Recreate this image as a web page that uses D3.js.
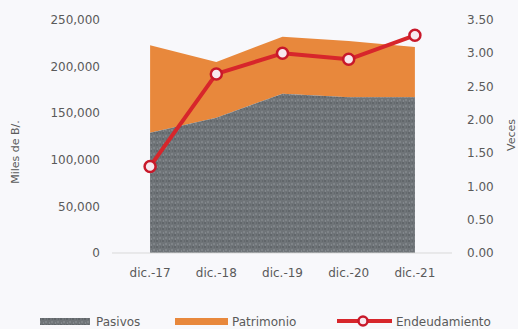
<!DOCTYPE html>
<html>
<head>
<meta charset="utf-8">
<script src="https://cdn.jsdelivr.net/npm/d3@7"></script>
<style>
  html, body { margin: 0; padding: 0; background: #f8f8fb; }
  svg { display: block; }
  text { font-family: "DejaVu Sans", sans-serif; fill: #5a5a5a; }
</style>
</head>
<body>
<svg id="chart" width="518" height="329"></svg>
<script>
// Balance data (miles de B/.) and leverage ratio (veces)
const categories = ["dic.-17", "dic.-18", "dic.-19", "dic.-20", "dic.-21"];
const pasivos = [129000, 145000, 171000, 167000, 167000];
const patrimonio = [94000, 60000, 61000, 60500, 54000];
const endeudamiento = [1.30, 2.69, 3.00, 2.91, 3.27];
const leftTicks = [0, 50000, 100000, 150000, 200000, 250000];
const rightTicks = [0, 0.5, 1, 1.5, 2, 2.5, 3, 3.5];

const svg = d3.select("#chart");

const x = d3.scalePoint().domain(categories).range([117, 448]).padding(0.5);
const yL = d3.scaleLinear().domain([0, 250000]).range([253, 20]);
const yR = d3.scaleLinear().domain([0, 3.5]).range([253, 20]);

// Speckled fill for the liabilities area
const defs = svg.append("defs");
const pat = defs.append("pattern")
  .attr("id", "speckle").attr("patternUnits", "userSpaceOnUse")
  .attr("width", 6).attr("height", 6);
pat.append("rect").attr("width", 6).attr("height", 6).attr("fill", "#6f7478");
pat.append("rect").attr("x", 0).attr("y", 0).attr("width", 2).attr("height", 2).attr("fill", "#61666a");
pat.append("rect").attr("x", 3).attr("y", 3).attr("width", 2).attr("height", 2).attr("fill", "#7f8488");
pat.append("rect").attr("x", 4).attr("y", 0).attr("width", 1).attr("height", 2).attr("fill", "#64696d");
pat.append("rect").attr("x", 1).attr("y", 4).attr("width", 1).attr("height", 2).attr("fill", "#82878c");

const totals = pasivos.map((p, i) => p + patrimonio[i]);

// Stacked areas
const areaPas = d3.area()
  .x((d, i) => x(categories[i])).y0(yL(0)).y1(d => yL(d));
const areaPat = d3.area()
  .x((d, i) => x(categories[i])).y0((d, i) => yL(pasivos[i])).y1(d => yL(d));

svg.append("path").datum(totals).attr("d", areaPat).attr("fill", "#e8883c");
svg.append("path").datum(pasivos).attr("d", areaPas).attr("fill", "url(#speckle)");

// Baseline
svg.append("line").attr("x1", 112).attr("x2", 452)
  .attr("y1", yL(0)).attr("y2", yL(0))
  .attr("stroke", "#d9d9d9").attr("stroke-width", 1);

// Left axis labels
svg.append("g").selectAll("text").data(leftTicks).join("text")
  .attr("x", 100).attr("y", d => yL(d)).attr("dy", "0.35em")
  .attr("text-anchor", "end").attr("font-size", 12)
  .text(d => d3.format(",")(d));

// Right axis labels
svg.append("g").selectAll("text").data(rightTicks).join("text")
  .attr("x", 467).attr("y", d => yR(d)).attr("dy", "0.35em")
  .attr("text-anchor", "start").attr("font-size", 12)
  .text(d => d3.format(".2f")(d));

// Category labels
svg.append("g").selectAll("text").data(categories).join("text")
  .attr("x", d => x(d)).attr("y", 273).attr("dy", "0.35em")
  .attr("text-anchor", "middle").attr("font-size", 12)
  .text(d => d);

// Axis titles
svg.append("text").attr("transform", "translate(19,152) rotate(-90)")
  .attr("text-anchor", "middle").attr("font-size", 11).text("Miles de B/.");
svg.append("text").attr("transform", "translate(515,135) rotate(-90)")
  .attr("text-anchor", "middle").attr("font-size", 11).text("Veces");

// Leverage line with markers
const line = d3.line().x((d, i) => x(categories[i])).y(d => yR(d));
svg.append("path").datum(endeudamiento).attr("d", line)
  .attr("fill", "none").attr("stroke", "#d7262b").attr("stroke-width", 4)
  .attr("stroke-linejoin", "round");
svg.append("g").selectAll("circle").data(endeudamiento).join("circle")
  .attr("cx", (d, i) => x(categories[i])).attr("cy", d => yR(d)).attr("r", 5.5)
  .attr("fill", "#f7e8ee").attr("stroke", "#c8182a").attr("stroke-width", 2.5);

// Legend
const lg = svg.append("g");
lg.append("rect").attr("x", 40).attr("y", 318).attr("width", 50).attr("height", 7).attr("fill", "url(#speckle)");
lg.append("text").attr("x", 96).attr("y", 322).attr("dy", "0.35em").attr("font-size", 12).text("Pasivos");
lg.append("rect").attr("x", 175).attr("y", 318).attr("width", 53).attr("height", 7).attr("fill", "#e8883c");
lg.append("text").attr("x", 232).attr("y", 322).attr("dy", "0.35em").attr("font-size", 12).text("Patrimonio");
lg.append("line").attr("x1", 337).attr("x2", 392).attr("y1", 321).attr("y2", 321)
  .attr("stroke", "#d7262b").attr("stroke-width", 4);
lg.append("circle").attr("cx", 363).attr("cy", 321).attr("r", 4.5)
  .attr("fill", "#f7e8ee").attr("stroke", "#c8182a").attr("stroke-width", 2.5);
lg.append("text").attr("x", 396).attr("y", 322).attr("dy", "0.35em").attr("font-size", 12).text("Endeudamiento");
</script>
</body>
</html>
